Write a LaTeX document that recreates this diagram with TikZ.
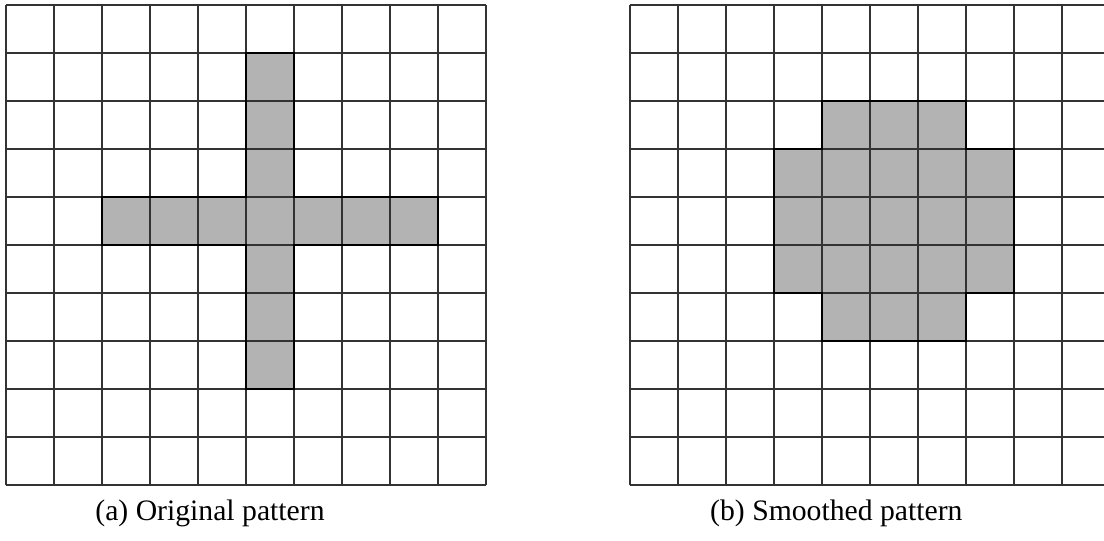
\documentclass[tikz,border=0pt]{standalone}
\usepackage{fontspec}
\setmainfont{Liberation Serif}
\usetikzlibrary{positioning}
\definecolor{cellgray}{HTML}{B3B3B3}
\definecolor{gridgray}{HTML}{333333}
\tikzset{
  gridline/.style={draw=gridgray, line width=0.8pt},
  outline/.style={draw=black, line width=1.4pt},
  caption/.style={font=\fontsize{17.6}{20}\selectfont, anchor=base}
}
\begin{document}
\begin{tikzpicture}
\useasboundingbox (-0.125,-1.146) rectangle (22.875,10.104);
% (a) original pattern
\fill[cellgray] (5,2) rectangle (6,9) (2,5) rectangle (9,6);
\draw[gridline] (0,0) grid (10,10);
\draw[outline] (5,2) -- (6,2) -- (6,5) -- (9,5) -- (9,6) -- (6,6) -- (6,9)
  -- (5,9) -- (5,6) -- (2,6) -- (2,5) -- (5,5) -- cycle;
\node[caption] (capa) at (4.25,-0.74) {(a) Original pattern};
% (b) smoothed pattern
\begin{scope}[xshift=13cm]
  \fill[cellgray] (4,3) -- (7,3) -- (7,4) -- (8,4) -- (8,7) -- (7,7) -- (7,8)
    -- (4,8) -- (4,7) -- (3,7) -- (3,4) -- (4,4) -- cycle;
  \draw[gridline] (0,0) grid (10,10);
  \draw[outline] (4,3) -- (7,3) -- (7,4) -- (8,4) -- (8,7) -- (7,7) -- (7,8)
    -- (4,8) -- (4,7) -- (3,7) -- (3,4) -- (4,4) -- cycle;
  \node[caption] (capb) at (4.3,-0.74) {(b) Smoothed pattern};
\end{scope}
\end{tikzpicture}
\end{document}
